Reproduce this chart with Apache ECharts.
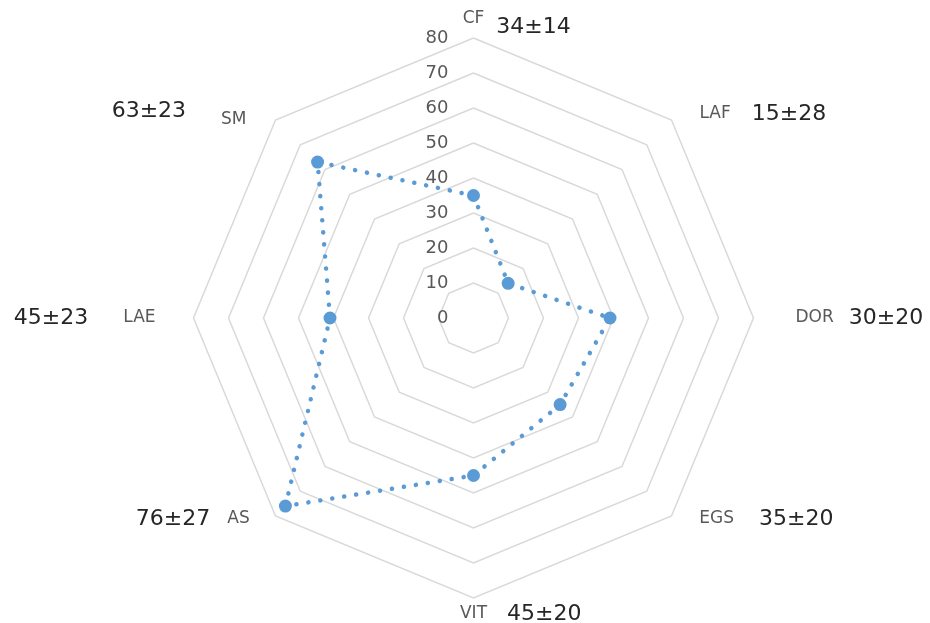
<!DOCTYPE html>
<html><head><meta charset="utf-8">
<script src="https://cdn.jsdelivr.net/npm/echarts@6/dist/echarts.min.js"></script>
<style>html,body{margin:0;padding:0;background:#fff}#c{width:930px;height:623px}</style>
</head><body><div id="c"></div>
<script>
// ---- data (clockwise from top, as in the reference) ----
const categories = ['CF', 'LAF', 'DOR', 'EGS', 'VIT', 'AS', 'LAE', 'SM'];
const values = [35, 14, 39, 35, 45, 76, 41, 63];
const stats = ['34±14', '15±28', '30±20', '35±20', '45±20', '76±27', '45±23', '63±23'];
const axisMax = 80;
const axisMin = 0;
const splitCount = 8;

// ---- label layout (px) ----
const FONT = '"DejaVu Sans", sans-serif';
const NAME_SIZE = 17, VALUE_SIZE = 22, TICK_SIZE = 18;
const layout = {
  CF:  {side: 'top',    gap: -6,  s2: 12, nk: 'nt'},
  LAF: {side: 'right',  gap: 8.5, s1: 22, s2: 21},
  DOR: {side: 'right',  gap: 8,   s1: 34, s2: 15},
  EGS: {side: 'right',  gap: 4,   s1: 25, s2: 25},
  VIT: {side: 'bottom', gap: -1,  s2: 20},
  AS:  {side: 'left',   gap: 4,   s1: 23, s2: 17},
  LAE: {side: 'left',   gap: 8,   s1: 30, s2: 35},
  SM:  {side: 'left',   gap: 12.7,s1: 20, s2: 35, nk: 'nb'}
};

const cv = document.createElement('canvas').getContext('2d');
function measure(t, size) { cv.font = size + 'px ' + FONT; return cv.measureText(t).width; }

const rich = {
  n:  {fontFamily: FONT, fontSize: NAME_SIZE, color: '#595959', lineHeight: 20, verticalAlign: 'middle'},
  nt: {fontFamily: FONT, fontSize: NAME_SIZE, color: '#595959', lineHeight: 20, verticalAlign: 'top'},
  nb: {fontFamily: FONT, fontSize: NAME_SIZE, color: '#595959', lineHeight: 20, verticalAlign: 'bottom'},
  v:  {fontFamily: FONT, fontSize: VALUE_SIZE, color: '#262626', lineHeight: 34, verticalAlign: 'middle'}
};
categories.forEach(function (c, i) {
  const L = layout[c];
  const vw = measure(stats[i], VALUE_SIZE);
  const a = (L.side === 'top' || L.side === 'bottom') ? L.s2 + vw : L.s1;
  rich['sa' + i] = {width: a, fontSize: 2, lineHeight: 10};
  rich['sb' + i] = {width: L.s2, fontSize: 2, lineHeight: 10};
});

function nameFormatter(name) {
  const i = categories.indexOf(name);
  const L = layout[name];
  const nk = L.nk || 'n';
  const sp = '\u00a0';
  if (L.side === 'left') {
    return '{v|' + stats[i] + '}{sb' + i + '|' + sp + '}{' + nk + '|' + name + '}{sa' + i + '|' + sp + '}';
  }
  return '{sa' + i + '|' + sp + '}{' + nk + '|' + name + '}{sb' + i + '|' + sp + '}{v|' + stats[i] + '}';
}

// ECharts lays indicators out counter-clockwise from the start angle
const order = [0, 7, 6, 5, 4, 3, 2, 1];
const indicator = order.map(function (i, k) {
  const ind = {name: categories[i], min: axisMin, max: axisMax, nameGap: layout[categories[i]].gap, nameMoveOverlap: false};
  if (k === 0) {
    ind.axisLabel = {show: true, color: '#595959', fontSize: TICK_SIZE, fontFamily: FONT, margin: 25, showMinLabel: true, showMaxLabel: true};
  }
  return ind;
});

const chart = echarts.init(document.getElementById('c'));
chart.setOption({
  animation: false,
  backgroundColor: '#ffffff',
  radar: {
    center: [473.5, 318],
    radius: 280,
    startAngle: 90,
    splitNumber: splitCount,
    shape: 'polygon',
    indicator: indicator,
    nameMoveOverlap: false,
    axisName: {formatter: nameFormatter, rich: rich, color: '#595959'},
    axisLine: {show: false},
    axisTick: {show: false},
    axisLabel: {show: false},
    splitLine: {lineStyle: {color: '#d9d9d9', width: 1.5}},
    splitArea: {show: false}
  },
  series: [{
    type: 'radar',
    symbol: 'circle',
    symbolSize: 13,
    itemStyle: {color: '#5B9BD5'},
    lineStyle: {color: '#5B9BD5', width: 4.5, type: [0.1, 12], cap: 'round'},
    data: [{name: 'Mean', value: order.map(function (i) { return values[i]; })}]
  }]
});
</script>
</body></html>
